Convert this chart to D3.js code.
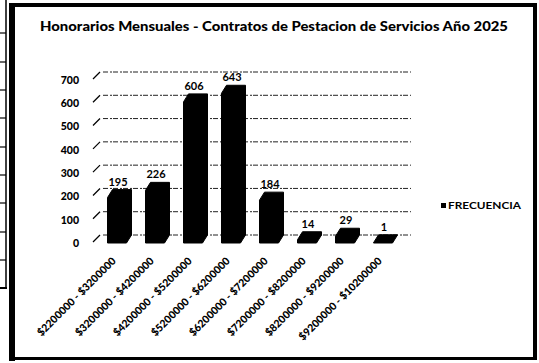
<!DOCTYPE html>
<html>
<head>
<meta charset="utf-8">
<script src="https://cdn.jsdelivr.net/npm/d3@7/dist/d3.min.js"></script>
<style>
  html, body { margin: 0; padding: 0; background: #fff; }
  svg { display: block; }
  text { font-family: Lato, "Open Sans", sans-serif; font-weight: 700; fill: #000; }
</style>
</head>
<body>
<svg id="chart" width="539" height="363"></svg>
<script>
// Honorarios mensuales: frecuencia de contratos por rango
const categories = [
  "$2200000 - $3200000",
  "$3200000 - $4200000",
  "$4200000 - $5200000",
  "$5200000 - $6200000",
  "$6200000 - $7200000",
  "$7200000 - $8200000",
  "$8200000 - $9200000",
  "$9200000 - $10200000"
];
const frecuencia = [195, 226, 606, 643, 184, 14, 29, 1];
const yTicks = [0, 100, 200, 300, 400, 500, 600, 700];
const seriesName = "FRECUENCIA";
const title = "Honorarios Mensuales - Contratos de Pestacion de Servicios Año 2025";

const svg = d3.select("#chart");

// pseudo-3D depth offset of the columns and back wall
const dx = 5, dy = -8;

const x = d3.scaleBand().domain(categories).range([98, 402])
  .paddingInner(0.5).paddingOuter(0.25);
const y = d3.scaleLinear().domain([0, 700]).range([243, 80]);

// side table edge at the far left
const table = svg.append("g").attr("stroke", "#000").attr("fill", "none");
table.append("line").attr("x1", 6).attr("x2", 6).attr("y1", 0).attr("y2", 288).attr("stroke-width", 1.5);
table.append("line").attr("x1", 0).attr("x2", 7).attr("y1", 288).attr("y2", 288).attr("stroke-width", 2);
[33, 62, 90, 118, 147, 175, 203, 232, 260].forEach(v => {
  table.append("line").attr("x1", 0).attr("x2", 6).attr("y1", v).attr("y2", v).attr("stroke-width", 1.2);
});

// chart frame
svg.append("rect").attr("x", 9).attr("y", 3).attr("width", 6).attr("height", 358).attr("fill", "#000");
svg.append("rect").attr("x", 9).attr("y", 3).attr("width", 528).attr("height", 4).attr("fill", "#000");
svg.append("rect").attr("x", 533).attr("y", 3).attr("width", 4).attr("height", 356).attr("fill", "#000");
svg.append("rect").attr("x", 9).attr("y", 357).attr("width", 528).attr("height", 3).attr("fill", "#000");

// title
svg.append("text")
  .attr("x", 274).attr("y", 31)
  .attr("text-anchor", "middle")
  .style("font-size", "13px")
  .style("font-weight", 900)
  .attr("textLength", 468).attr("lengthAdjust", "spacingAndGlyphs")
  .text(title);

// back wall gridlines
const grid = svg.append("g");
grid.selectAll("line.grid").data(yTicks).join("line")
  .attr("class", "grid")
  .attr("x1", x.range()[0] + dx).attr("x2", x.range()[1] + dx + 4)
  .attr("y1", d => y(d) + dy).attr("y2", d => y(d) + dy)
  .attr("stroke", "#222").attr("stroke-width", 1)
  .attr("stroke-dasharray", "5 2 2 1");
// left wall edge marks
grid.selectAll("line.edge").data(yTicks).join("line")
  .attr("class", "edge")
  .attr("x1", x.range()[0] - 5).attr("x2", x.range()[0] + 2)
  .attr("y1", d => y(d) - 1).attr("y2", d => y(d) + dy)
  .attr("stroke", "#000").attr("stroke-width", 1.3);

// y axis labels
const yAxis = d3.axisLeft(y).tickValues(yTicks).tickSize(0).tickPadding(0);
svg.append("g")
  .attr("transform", "translate(79,0)")
  .call(yAxis)
  .call(g => g.select(".domain").remove())
  .call(g => g.selectAll("text").style("font-size", "10.5px").style("font-weight", 900).attr("fill", "#000"));

// columns
const bw = x.bandwidth();
const bars = svg.append("g").selectAll("g.bar")
  .data(categories.map((c, i) => ({ c, v: frecuencia[i] })))
  .join("g").attr("class", "bar");

bars.append("path")
  .attr("d", d => {
    const x0 = x(d.c), y0 = y(d.v), yb = y(0);
    return `M${x0},${yb} L${x0},${y0} L${x0 + dx},${y0 + dy} L${x0 + bw + dx},${y0 + dy} ` +
           `L${x0 + bw + dx},${yb + dy} L${x0 + bw},${yb} Z`;
  })
  .attr("fill", "#000").attr("stroke", "#000").attr("stroke-width", 1).attr("stroke-linejoin", "round");

bars.append("rect")
  .attr("x", d => x(d.c)).attr("y", d => y(d.v))
  .attr("width", bw).attr("height", d => y(0) - y(d.v))
  .attr("rx", 2)
  .attr("fill", "#000");

// value labels
bars.append("text")
  .attr("x", d => x(d.c) + bw / 2 + 1)
  .attr("y", d => y(d.v) + dy - 4)
  .attr("text-anchor", "middle")
  .style("font-size", "11px")
  .text(d => d.v);

// category labels
const xAxis = d3.axisBottom(x).tickSize(0).tickPadding(0);
svg.append("g")
  .call(xAxis)
  .call(g => g.select(".domain").remove())
  .call(g => g.selectAll(".tick").attr("transform", d => `translate(${x(d) + bw / 2 - 3},259)`))
  .call(g => g.selectAll("text")
    .attr("x", 0).attr("y", 0).attr("dy", "0.35em")
    .attr("text-anchor", "end")
    .attr("transform", "rotate(-45)")
    .attr("fill", "#000")
    .style("font-size", "10.5px")
    .style("font-weight", 900));

// legend
const legend = svg.append("g").attr("transform", "translate(441,203)");
legend.append("rect").attr("width", 5).attr("height", 5).attr("fill", "#000");
legend.append("text").attr("x", 7).attr("y", 6)
  .style("font-size", "10px")
  .attr("textLength", 73).attr("lengthAdjust", "spacingAndGlyphs")
  .text(seriesName);
</script>
</body>
</html>
